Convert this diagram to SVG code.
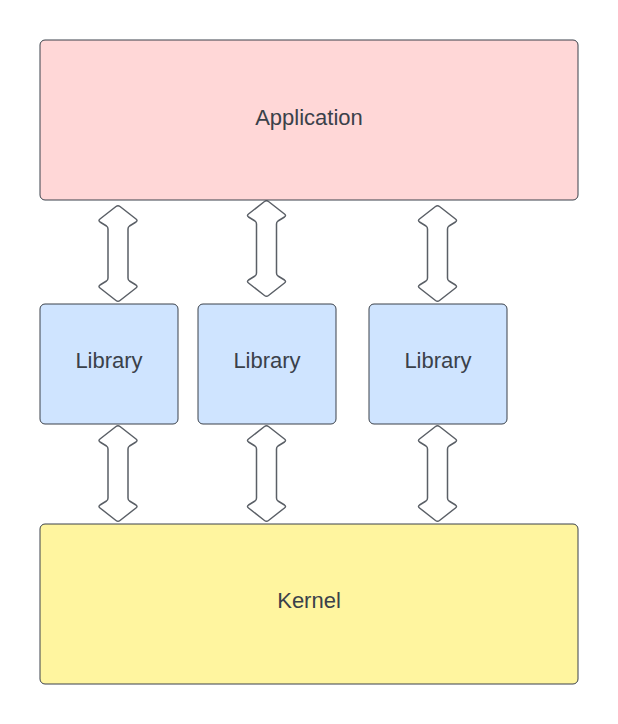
<svg xmlns="http://www.w3.org/2000/svg" width="618" height="724" viewBox="0 0 618 724">
<style>
.box{stroke:#3a414a;stroke-width:1}
.app{fill:#ffd7d7}
.lib{fill:#cfe4ff}
.ker{fill:#fff59f}
.lbl{font-family:"Liberation Sans",Arial,sans-serif;font-size:22px;fill:#3a414a;text-anchor:middle;dominant-baseline:central}
.arr{fill:#ffffff;stroke:#5a5f66;stroke-width:1.5;stroke-linejoin:round}
</style>
<defs>
<path id="dbl" d="M-2,1.5 Q0,0 2,1.5 L18,14 Q20,15.5 18,17 L11.5,21 Q10,22 10,24 L10,73 Q10,75 11.5,76 L18,80 Q20,81.5 18,83 L2,95.5 Q0,97 -2,95.5 L-18,83 Q-20,81.5 -18,80 L-11.5,76 Q-10,75 -10,73 L-10,24 Q-10,22 -11.5,21 L-18,17 Q-20,15.5 -18,14 Z"/>
</defs>
<rect width="618" height="724" fill="#ffffff"/>
<g id="connectors">
<use href="#dbl" class="arr" transform="translate(118,205)"/>
<use href="#dbl" class="arr" transform="translate(266.5,200)"/>
<use href="#dbl" class="arr" transform="translate(437.5,205)"/>
<use href="#dbl" class="arr" transform="translate(118,425)"/>
<use href="#dbl" class="arr" transform="translate(266.5,425)"/>
<use href="#dbl" class="arr" transform="translate(437.5,425)"/>
</g>
<g id="application">
<rect class="box app" x="40" y="40" width="538" height="160" rx="5"/>
<text class="lbl" x="309" y="117">Application</text>
</g>
<g id="library1">
<rect class="box lib" x="40" y="304" width="138" height="120" rx="5"/>
<text class="lbl" x="109" y="360">Library</text>
</g>
<g id="library2">
<rect class="box lib" x="198" y="304" width="138" height="120" rx="5"/>
<text class="lbl" x="267" y="360">Library</text>
</g>
<g id="library3">
<rect class="box lib" x="369" y="304" width="138" height="120" rx="5"/>
<text class="lbl" x="438" y="360">Library</text>
</g>
<g id="kernel">
<rect class="box ker" x="40" y="524" width="538" height="160" rx="5"/>
<text class="lbl" x="309" y="600">Kernel</text>
</g>
</svg>
